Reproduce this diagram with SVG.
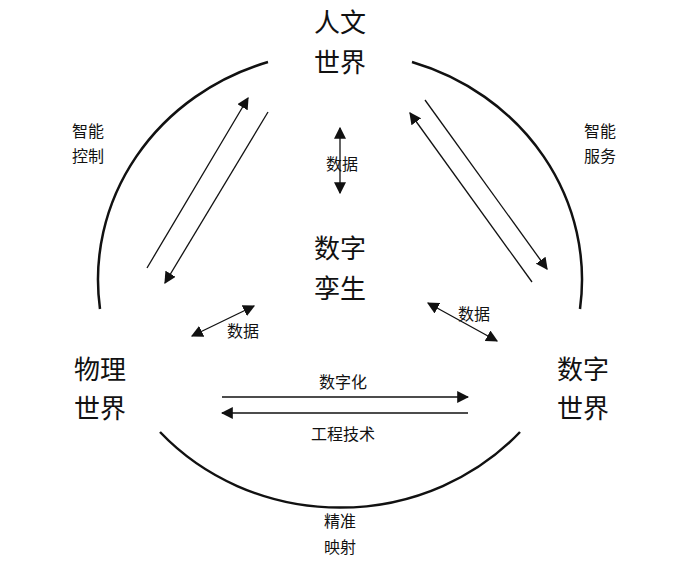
<svg xmlns="http://www.w3.org/2000/svg" width="682" height="567" viewBox="0 0 682 567">
<style>
.big{font-family:"Noto Sans CJK SC",sans-serif;font-size:26px;fill:#111;text-anchor:middle}
.sm{font-family:"Noto Sans CJK SC",sans-serif;font-size:16px;fill:#111;text-anchor:middle}
.arc{fill:none;stroke:#111;stroke-width:2.5}
.ln{stroke:#111;stroke-width:1.3;fill:none}
</style>
<defs>
<marker id="ahb" viewBox="0 0 10 10" refX="9" refY="5" markerWidth="12" markerHeight="12" markerUnits="userSpaceOnUse" orient="auto-start-reverse"><path d="M0,0 L10,5 L0,10 Z" fill="#111"/></marker>
</defs>
<rect width="682" height="567" fill="#fff"/>
<g id="connectors">
<path class="arc" d="M100 309 A242 228 0 0 1 268 62"/>
<path class="arc" d="M412 62 A242 228 0 0 1 580 309"/>
<path class="arc" d="M520 432 A242 228 0 0 1 160 432"/>
<line class="ln" x1="147" y1="268" x2="248" y2="98" marker-end="url(#ahb)"/>
<line class="ln" x1="268" y1="112" x2="165" y2="283" marker-end="url(#ahb)"/>
<line class="ln" x1="532" y1="282" x2="410" y2="113" marker-end="url(#ahb)"/>
<line class="ln" x1="425" y1="100" x2="547" y2="269" marker-end="url(#ahb)"/>
<line class="ln" x1="222" y1="397" x2="468" y2="397" marker-end="url(#ahb)"/>
<line class="ln" x1="468" y1="413" x2="222" y2="413" marker-end="url(#ahb)"/>
<line class="ln" x1="340" y1="128" x2="340" y2="193" marker-start="url(#ahb)" marker-end="url(#ahb)"/>
<line class="ln" x1="192" y1="336" x2="254" y2="306" marker-start="url(#ahb)" marker-end="url(#ahb)"/>
<line class="ln" x1="428" y1="303" x2="497" y2="341" marker-start="url(#ahb)" marker-end="url(#ahb)"/>
</g>
<g id="renwen"><text class="big" x="340" y="32">人文</text><text class="big" x="340" y="72">世界</text></g>
<g id="twin"><text class="big" x="340" y="258">数字</text><text class="big" x="340" y="298">孪生</text></g>
<g id="physical"><text class="big" x="100" y="379">物理</text><text class="big" x="100" y="418">世界</text></g>
<g id="digital"><text class="big" x="583" y="379">数字</text><text class="big" x="583" y="418">世界</text></g>
<g id="labels">
<text class="sm" x="88" y="137">智能</text><text class="sm" x="88" y="162">控制</text>
<text class="sm" x="600" y="137">智能</text><text class="sm" x="600" y="162">服务</text>
<text class="sm" x="342" y="170">数据</text>
<text class="sm" x="243" y="337">数据</text>
<text class="sm" x="474" y="320">数据</text>
<text class="sm" x="343" y="388">数字化</text>
<text class="sm" x="343" y="440">工程技术</text>
<text class="sm" x="340" y="527">精准</text><text class="sm" x="340" y="553">映射</text>
</g>
</svg>
